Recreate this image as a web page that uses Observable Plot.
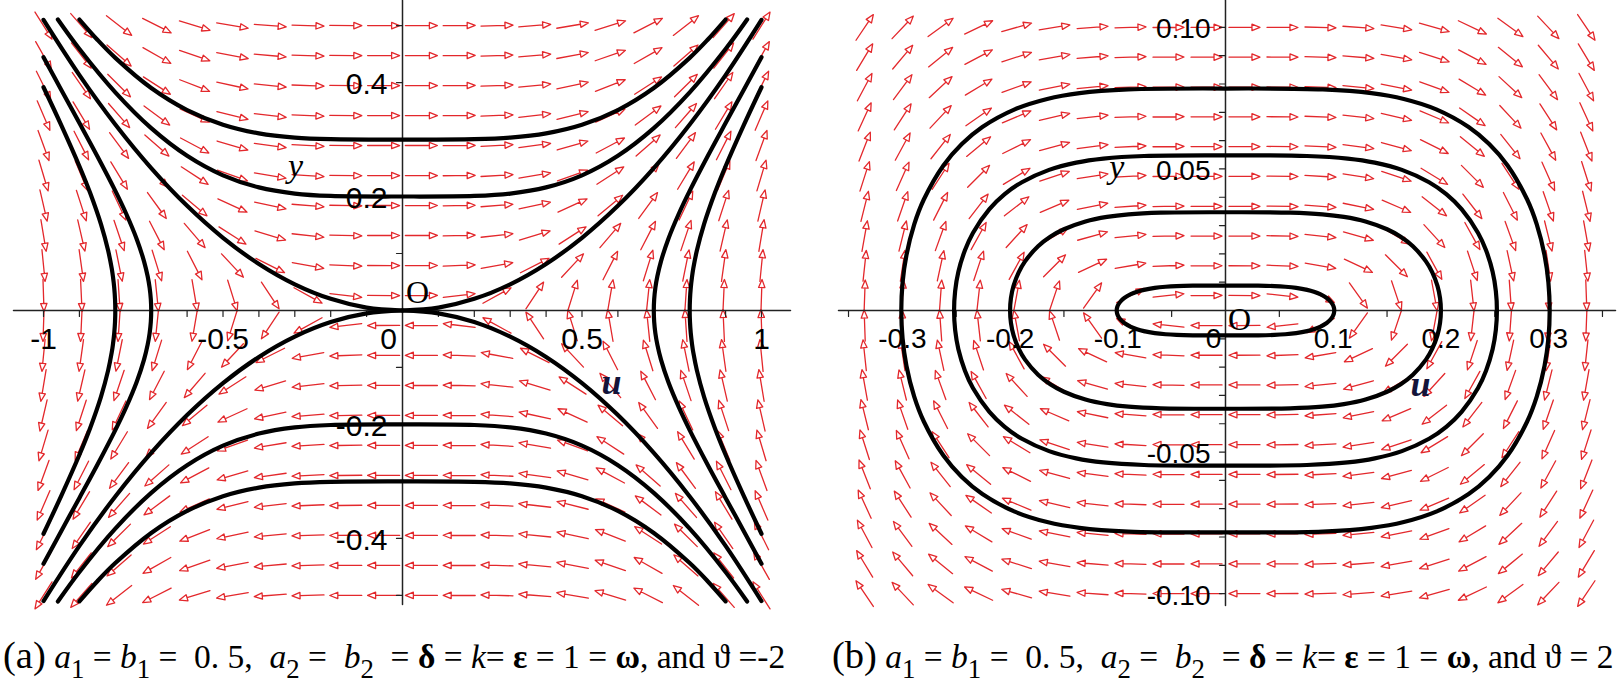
<!DOCTYPE html>
<html><head><meta charset="utf-8">
<script src="https://cdn.jsdelivr.net/npm/d3@7"></script>
<script src="https://cdn.jsdelivr.net/npm/@observablehq/plot@0.6"></script>
<style>
body{margin:0;background:#fff;}
#wrap{position:relative;width:1619px;height:686px;overflow:hidden;background:#fff;}
.panel{position:absolute;top:0;}
.cap{position:absolute;top:640px;font-family:"Liberation Serif","Times New Roman",serif;font-size:33.5px;white-space:nowrap;color:#000;line-height:1;}
.cap sub{font-size:0.8em;vertical-align:-0.38em;line-height:0;}
.cap .lab{font-size:1.15em;line-height:0;}
</style></head><body>
<div id="wrap">
<div id="left" class="panel" style="left:0"></div>
<div id="right" class="panel" style="left:810px"></div>
<div class="cap" style="left:3px"><span class="lab">(a)</span> <i>a</i><sub>1</sub> = <i>b</i><sub>1</sub> = &nbsp;0. 5, &nbsp;<i>a</i><sub>2</sub> = &nbsp;<i>b</i><sub>2</sub> &nbsp;= <b>δ</b> = <i>k</i>= <b>ε</b> = 1 = <b>ω</b>, and ϑ =-2</div>
<div class="cap" style="left:832px"><span class="lab">(b)</span> <i>a</i><sub>1</sub> = <i>b</i><sub>1</sub> = &nbsp;0. 5, &nbsp;<i>a</i><sub>2</sub> = &nbsp;<i>b</i><sub>2</sub> &nbsp;= <b>δ</b> = <i>k</i>= <b>ε</b> = 1 = <b>ω</b>, and ϑ = 2</div>
</div>
<script>
// ---------- Panel (a) data ----------
const leftArrowU = [-1, -0.8947, -0.7895, -0.6842, -0.5789, -0.4737, -0.3684, -0.2632, -0.1579, -0.0526, 0.0526, 0.1579, 0.2632, 0.3684, 0.4737, 0.5789, 0.6842, 0.7895, 0.8947, 1];
const leftArrowY = [-0.5, -0.4474, -0.3947, -0.3421, -0.2895, -0.2368, -0.1842, -0.1316, -0.0789, -0.0263, 0.0263, 0.0789, 0.1316, 0.1842, 0.2368, 0.2895, 0.3421, 0.3947, 0.4474, 0.5];
// horizontal rate for each row, vertical rate for each column
const leftRateU = [-0.5, -0.4474, -0.3947, -0.3421, -0.2895, -0.2368, -0.1842, -0.1316, -0.0789, -0.0263, 0.0263, 0.0789, 0.1316, 0.1842, 0.2368, 0.2895, 0.3421, 0.3947, 0.4474, 0.5];
const leftRateY = [-0.5, -0.3581, -0.2461, -0.1602, -0.0970, -0.0532, -0.0250, -0.00912, -0.00197, -0.000073, 0.000073, 0.00197, 0.00912, 0.0250, 0.0532, 0.0970, 0.1602, 0.2461, 0.3581, 0.5];
// orbits (one quadrant each, mirrored)
const leftOrbitA_u = [0, 0.2, 0.3, 0.4, 0.5, 0.6, 0.7, 0.8, 0.85, 0.9];
const leftOrbitA_y = [0.300, 0.3007, 0.3035, 0.3109, 0.3260, 0.3517, 0.3904, 0.4433, 0.4751, 0.5105];
const leftOrbitB_u = [0, 0.2, 0.3, 0.4, 0.5, 0.6, 0.7, 0.8, 0.9, 0.96];
const leftOrbitB_y = [0.2, 0.2010, 0.2052, 0.2160, 0.2372, 0.2715, 0.3200, 0.3828, 0.4589, 0.5107];
const leftSep_u = [0, 0.1, 0.2, 0.3, 0.4, 0.5, 0.6, 0.7, 0.8, 0.9, 1.0];
const leftSep_y = [0, 0.0051, 0.0204, 0.0459, 0.0816, 0.1275, 0.1836, 0.2499, 0.3264, 0.4131, 0.51];
const leftOrbitC_u = [0.70, 0.7011, 0.7044, 0.7099, 0.72, 0.74, 0.77, 0.80, 0.85, 0.90, 0.95, 1.0];
const leftOrbitC_y = [0, 0.02, 0.04, 0.06, 0.0863, 0.1247, 0.1702, 0.2099, 0.2707, 0.3289, 0.3865, 0.4445];
const leftOrbitD_u = [0.80, 0.8008, 0.803, 0.8067, 0.81, 0.82, 0.84, 0.87, 0.90, 0.95, 1.0];
const leftOrbitD_y = [0, 0.02, 0.04, 0.06, 0.0737, 0.1051, 0.1515, 0.2061, 0.2532, 0.3245, 0.3918];
const leftXTicks = [-1, -0.9, -0.8, -0.7, -0.6, -0.5, -0.4, -0.3, -0.2, -0.1, 0.1, 0.2, 0.3, 0.4, 0.5, 0.6, 0.7, 0.8, 0.9, 1];
const leftYTicks = [-0.5, -0.4, -0.3, -0.2, -0.1, 0.1, 0.2, 0.3, 0.4, 0.5];
const leftXLabels = [-1, -0.5, 0.5, 1];
const leftXLabelText = ["-1", "-0.5", "0.5", "1"];
const leftYLabels = [0.4, 0.2, -0.2, -0.4];
const leftYLabelText = ["0.4", "0.2", "-0.2", "-0.4"];

// ---------- Panel (b) data ----------
const rightArrowU = [-0.335, -0.2997, -0.2645, -0.2292, -0.1939, -0.1587, -0.1234, -0.0882, -0.0529, -0.0176, 0.0176, 0.0529, 0.0882, 0.1234, 0.1587, 0.1939, 0.2292, 0.2645, 0.2997, 0.335];
const rightArrowY = [-0.1, -0.0895, -0.0789, -0.0684, -0.0579, -0.0474, -0.0368, -0.0263, -0.0158, -0.0053, 0.0053, 0.0158, 0.0263, 0.0368, 0.0474, 0.0579, 0.0684, 0.0789, 0.0895, 0.1];
const rightRateU = [-0.1, -0.0895, -0.0789, -0.0684, -0.0579, -0.0474, -0.0368, -0.0263, -0.0158, -0.0053, 0.0053, 0.0158, 0.0263, 0.0368, 0.0474, 0.0579, 0.0684, 0.0789, 0.0895, 0.1];
const rightRateY = [0.0564, 0.0404, 0.02776, 0.01806, 0.01094, 0.00600, 0.00282, 0.00103, 0.000222, 0.0000082, -0.0000082, -0.000222, -0.00103, -0.00282, -0.00600, -0.01094, -0.01806, -0.02776, -0.0404, -0.0564];
const rightOrbit1_u = [0, 0.0303, 0.04545, 0.05555, 0.06565, 0.07575, 0.08214, 0.08787, 0.09399, 0.09696, 0.09938, 0.1006, 0.101];
const rightOrbit1_y = [0.0088, 0.00876, 0.00862, 0.00839, 0.00798, 0.00728, 0.0066, 0.00575, 0.0044, 0.00342, 0.0022, 0.00111, 0];
const rightOrbit2_u = [0, 0.06, 0.09, 0.11, 0.13, 0.15, 0.1627, 0.174, 0.1861, 0.192, 0.1968, 0.1992, 0.2];
const rightOrbit2_y = [0.0347, 0.03456, 0.03398, 0.03307, 0.03145, 0.02869, 0.02603, 0.02268, 0.01735, 0.01347, 0.00868, 0.00438, 0];
const rightOrbit3_u = [0, 0.0756, 0.1134, 0.1386, 0.1638, 0.189, 0.205, 0.2192, 0.2345, 0.2419, 0.248, 0.251, 0.252];
const rightOrbit3_y = [0.0548, 0.05458, 0.05366, 0.05223, 0.04967, 0.04531, 0.0411, 0.03581, 0.0274, 0.02127, 0.0137, 0.00692, 0];
const rightOrbit4_u = [0, 0.0903, 0.13545, 0.16555, 0.19565, 0.22575, 0.2448, 0.2619, 0.2801, 0.289, 0.2962, 0.2998, 0.301];
const rightOrbit4_y = [0.0784, 0.07808, 0.07678, 0.07473, 0.07106, 0.06482, 0.0588, 0.05124, 0.0392, 0.03043, 0.0196, 0.0099, 0];
const rightXTicks = [-0.35, -0.3, -0.25, -0.2, -0.15, -0.1, -0.05, 0.05, 0.1, 0.15, 0.2, 0.25, 0.3, 0.35];
const rightYTicks = [-0.1, -0.09, -0.08, -0.07, -0.06, -0.05, -0.04, -0.03, -0.02, -0.01, 0.01, 0.02, 0.03, 0.04, 0.05, 0.06, 0.07, 0.08, 0.09, 0.1];
const rightXLabels = [-0.3, -0.2, -0.1, 0.1, 0.2, 0.3];
const rightXLabelText = ["-0.3", "-0.2", "-0.1", "0.1", "0.2", "0.3"];
const rightYLabels = [0.1, 0.05, -0.05, -0.1];
const rightYLabelText = ["0.10", "0.05", "-0.05", "-0.10"];

// ---------- helpers ----------
const RED = "#e3282c";
const zip = (us, ys) => us.map((u, i) => [u, ys[i]]);
function openH(us, ys, sy) {
  const q = zip(us, ys);
  return [...q.slice(1).reverse().map(([u, y]) => [-u, sy * y]), ...q.map(([u, y]) => [u, sy * y])];
}
function openV(us, ys, sx) {
  const q = zip(us, ys);
  return [...q.slice(1).reverse().map(([u, y]) => [sx * u, -y]), ...q.map(([u, y]) => [sx * u, y])];
}
function branch(us, ys, sx, sy) { return zip(us, ys).map(([u, y]) => [sx * u, sy * y]); }
function loop(us, ys) {
  const q = zip(us, ys), n = q.length;
  const pts = [];
  for (let k = 0; k < n; k++) pts.push([q[k][0], q[k][1]]);
  for (let k = n - 2; k >= 0; k--) pts.push([q[k][0], -q[k][1]]);
  for (let k = 1; k < n; k++) pts.push([-q[k][0], -q[k][1]]);
  for (let k = n - 2; k >= 0; k--) pts.push([-q[k][0], q[k][1]]);
  return pts;
}
const tickShape = {draw(ctx, l) { ctx.moveTo(0, 0); ctx.lineTo(0, -l); }};
const arrowShape = {draw(ctx, l, r) {
  ctx.moveTo(0, 0); ctx.lineTo(0, -l + 8);
  ctx.moveTo(0, -l); ctx.lineTo(-r, -l + 8); ctx.lineTo(r, -l + 8); ctx.closePath();
}};

function panel(c) {
  const kx = (c.xRange[1] - c.xRange[0]) / (c.xDomain[1] - c.xDomain[0]);
  const ky = (c.yRange[0] - c.yRange[1]) / (c.yDomain[1] - c.yDomain[0]);
  const arrows = [];
  c.arrowY.forEach((y, j) => c.arrowU.forEach((u, i) => arrows.push({u, y, a: c.rateU[j], b: c.rateY[i]})));
  const lines = [];
  c.curves.forEach((pts, id) => pts.forEach(([u, y]) => lines.push({u, y, id})));
  const sans = "Liberation Sans, Arial, sans-serif";
  const serif = "Liberation Serif, Times New Roman, serif";
  return Plot.plot({
    width: c.width, height: c.height,
    marginTop: 0, marginBottom: 0, marginLeft: 0, marginRight: 0,
    x: {domain: c.xDomain, range: c.xRange, axis: null},
    y: {domain: c.yDomain, range: c.yRange, axis: null},
    style: {background: "transparent", overflow: "visible", color: "#000"},
    marks: [
      Plot.vector(arrows, {x: "u", y: "y", rotate: d => Math.atan2(d.a * kx, d.b * ky) * 180 / Math.PI,
        length: c.arrowLen, anchor: "middle", shape: arrowShape, r: 3.2, stroke: RED, strokeWidth: 1.3}),
      Plot.line([[c.xDomain[0], 0], [c.xDomain[1], 0]], {stroke: "#222", strokeWidth: 1.5}),
      Plot.line([[0, c.yDomain[0]], [0, c.yDomain[1]]], {stroke: "#222", strokeWidth: 1.5}),
      Plot.vector(c.xTicks, {x: d => d, y: () => 0, length: 6, rotate: 180, anchor: "start", shape: tickShape, stroke: "#222", strokeWidth: 1.2}),
      Plot.vector(c.yTicks, {x: () => 0, y: d => d, length: 6, rotate: -90, anchor: "start", shape: tickShape, stroke: "#222", strokeWidth: 1.2}),
      Plot.line(lines, {x: "u", y: "y", z: "id", curve: "catmull-rom", stroke: "#000", strokeWidth: 4.2, strokeLinejoin: "round"}),
      Plot.text(c.xLabels, {x: d => d, y: () => 0, text: (d, i) => c.xLabelText[i], dy: 29, fontSize: c.fs, fontFamily: sans, textAnchor: "middle"}),
      Plot.text([0], {x: () => 0, y: () => 0, text: () => "0", dx: c.zeroDx, dy: 29, fontSize: c.fs, fontFamily: sans, textAnchor: "middle"}),
      Plot.text(c.yLabels, {x: () => 0, y: d => d, text: (d, i) => c.yLabelText[i], dx: -15, dy: 2, fontSize: c.fs, fontFamily: sans, textAnchor: "end"}),
      Plot.text([0], {x: () => 0, y: () => 0, text: () => "O", dx: c.oDx, dy: c.oDy, fontSize: 32, fontFamily: serif}),
      Plot.text([c.yLab], {x: d => d[0], y: d => d[1], text: () => "y", fontSize: 34, fontFamily: serif, fontStyle: "italic"}),
      Plot.text([c.uLab], {x: d => d[0], y: d => d[1], text: () => "u", fontSize: 36, fontFamily: serif, fontStyle: "italic", fontWeight: "bold", fill: "#14143a"})
    ]
  });
}

const leftCurves = [
  openH(leftOrbitA_u, leftOrbitA_y, 1), openH(leftOrbitA_u, leftOrbitA_y, -1),
  openH(leftOrbitB_u, leftOrbitB_y, 1), openH(leftOrbitB_u, leftOrbitB_y, -1),
  branch(leftSep_u, leftSep_y, 1, 1), branch(leftSep_u, leftSep_y, -1, 1),
  branch(leftSep_u, leftSep_y, 1, -1), branch(leftSep_u, leftSep_y, -1, -1),
  openV(leftOrbitC_u, leftOrbitC_y, 1), openV(leftOrbitC_u, leftOrbitC_y, -1),
  openV(leftOrbitD_u, leftOrbitD_y, 1), openV(leftOrbitD_u, leftOrbitD_y, -1)
];
const rightCurves = [
  loop(rightOrbit1_u, rightOrbit1_y), loop(rightOrbit2_u, rightOrbit2_y),
  loop(rightOrbit3_u, rightOrbit3_y), loop(rightOrbit4_u, rightOrbit4_y)
];

document.getElementById("left").append(panel({
  width: 810, height: 610,
  xDomain: [-1.0836, 1.0808], xRange: [13, 790],
  yDomain: [-0.516, 0.544], yRange: [604, 0],
  arrowU: leftArrowU, arrowY: leftArrowY, rateU: leftRateU, rateY: leftRateY, arrowLen: 32,
  curves: leftCurves, xTicks: leftXTicks, yTicks: leftYTicks,
  xLabels: leftXLabels, xLabelText: leftXLabelText, yLabels: leftYLabels, yLabelText: leftYLabelText,
  fs: 30, zeroDx: -14, oDx: 15, oDy: -18, yLab: [-0.298, 0.254], uLab: [0.582, -0.126]
}));
document.getElementById("right").append(panel({
  width: 809, height: 610,
  xDomain: [-0.3593, 0.3621], xRange: [28, 805],
  yDomain: [-0.1042, 0.1095], yRange: [605, 0],
  arrowU: rightArrowU, arrowY: rightArrowY, rateU: rightRateU, rateY: rightRateY, arrowLen: 31,
  curves: rightCurves, xTicks: rightXTicks, yTicks: rightYTicks,
  xLabels: rightXLabels, xLabelText: rightXLabelText, yLabels: rightYLabels, yLabelText: rightYLabelText,
  fs: 28, zeroDx: -12, oDx: 14, oDy: 9, yLab: [-0.101, 0.0505], uLab: [0.181, -0.0261]
}));
</script>
</body></html>
